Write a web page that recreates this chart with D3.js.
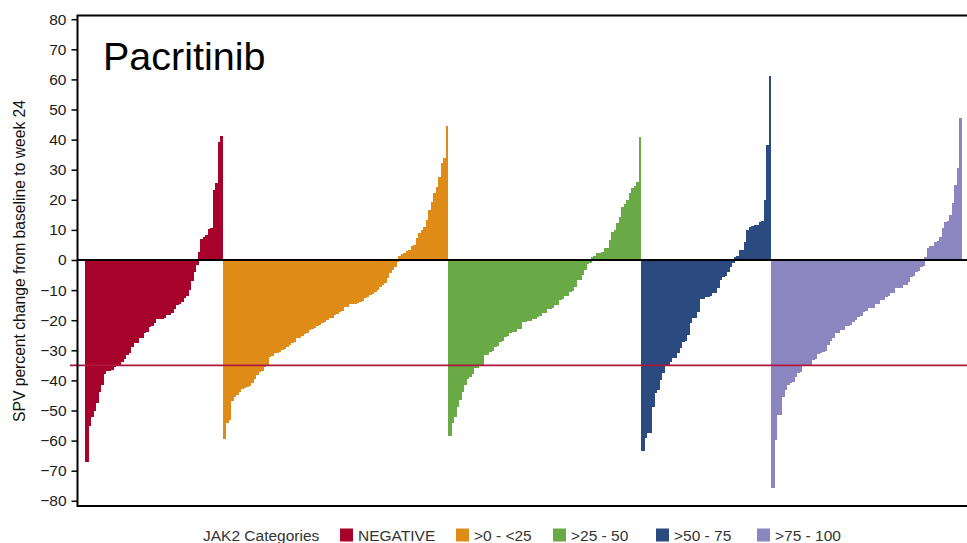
<!DOCTYPE html>
<html>
<head>
<meta charset="utf-8">
<script src="https://cdn.jsdelivr.net/npm/d3@7/dist/d3.min.js"></script>
<style>
  html, body { margin: 0; padding: 0; background: #fff; }
  svg { display: block; font-family: "Liberation Sans", Arial, Helvetica, sans-serif; }
</style>
</head>
<body>
<svg id="chart" width="967" height="543"></svg>
<script>
// JAK2 allele-burden categories and their colours
const categories = ["NEGATIVE", ">0 - <25", ">25 - 50", ">50 - 75", ">75 - 100"];
const categoryColors = ["#a6022b", "#df8b18", "#69a946", "#2b4a7f", "#8b86c0"];

// Per-patient SPV % change from baseline to week 24, sorted within each category
const negativeValues = [
  -67, -55, -52, -50, -47.5, -44, -41.5, -38, -37, -37, -36.5, -35.5, -35.3, -35,
  -33.8, -33, -31.6, -31, -28.8, -27.5, -27.5, -26, -26, -24.1, -24, -22.1, -22, -21,
  -19.6, -19.6, -19.5, -19.4, -18.3, -18.2, -17.5, -16.4, -15, -14.5, -13.8, -12.5, -12,
  -10, -7, -4, -1.5, 2.5, 7, 7.5, 8.3, 10.3, 10.5, 23.3, 25.5, 39.3, 41.2
];
const lowValues = [
  -59.6, -54.3, -53.2, -47, -45.4, -45, -43.7, -43, -42.6, -42.1, -42, -41, -39.6, -38.2,
  -37.1, -37, -35.4, -35, -32.1, -32, -31, -31, -30.5, -29.9, -29.5, -28.8, -28.3, -27.7,
  -27.2, -26, -25.8, -25.2, -24.6, -24.3, -23.3, -23, -22.7, -21.9, -21.5, -21, -20.5, -20,
  -19.4, -19.2, -18.3, -18, -17.2, -17, -15.7, -15.5, -14.6, -14.6, -14.5, -14.3, -13.8,
  -13.5, -12.7, -12.3, -11.6, -11.2, -10.5, -10, -8.9, -8.2, -7.7, -6.1, -4.4, -3.3, -2.2,
  -0.5, 1.4, 2, 2.2, 3, 3.3, 4.5, 5, 7.2, 8.9, 10, 11.1, 13.3, 16.6, 19.4, 22.2, 24.4,
  27.7, 32.1, 33.8, 44.5
];
const midLowValues = [
  -58.5, -54.3, -52, -48.7, -46.5, -43.7, -41.5, -39.6, -39, -37.9, -36, -36, -34.9, -34.9,
  -31.6, -31.4, -30.5, -30.3, -28.8, -28.5, -27.1, -27, -25.5, -25.3, -24.1, -24, -23.8,
  -23, -22.8, -20.5, -20.5, -20.3, -20.2, -19.6, -19.5, -18.8, -18.6, -17.7, -17.5, -16.4,
  -16.3, -16, -15, -14.8, -13.3, -13.1, -12, -11.8, -10.5, -10.3, -8.9, -6.6, -6.5, -5,
  -3.3, -1.3, -1.1, 1.1, 1.2, 2.2, 2.3, 2.5, 3.9, 4, 6.6, 9.4, 10, 12.2, 14.4, 17.7, 18.5,
  19.9, 22.2, 23.8, 24.5, 26, 40.8
];
const midHighValues = [
  -63.3, -59.3, -57.6, -57.6, -48.7, -44.3, -43.2, -39.9, -37.7, -35.2, -35, -33.8, -32.7,
  -32.5, -31, -29.3, -27.1, -27, -24.9, -21, -19.4, -19.2, -17.2, -13.1, -13, -12.2, -12.2,
  -12, -11.1, -11, -9.4, -6.6, -5.5, -5.3, -3.9, -2.2, -1.1, 1.1, 1.2, 3.3, 3.4, 6.1, 10,
  11.1, 11.2, 11.6, 11.7, 12.7, 12.8, 19.9, 38.2, 61.1
];
const highValues = [
  -75.9, -59.8, -51.5, -51.5, -45.4, -43.2, -41.5, -41, -40.4, -38.8, -37.4, -37.2, -35.2,
  -35.2, -35.1, -35, -33.2, -33, -31.2, -31, -30.5, -30.3, -28.2, -27, -26, -24.4, -24.2,
  -23.3, -23.1, -21.9, -21.8, -21.5, -20.5, -20, -18.8, -18.5, -17.2, -17, -16, -16, -15.8,
  -14.6, -14.5, -13.3, -13.2, -12.2, -12, -10.9, -10.8, -9.4, -9.3, -9.2, -8.3, -8.2, -7.2,
  -5.5, -5.4, -3.9, -3.8, -2.2, -2, 1.1, 3.9, 4.7, 4.8, 6.1, 6.2, 7.7, 10.5, 12.7, 12.8,
  15, 18.8, 24.9, 30.5, 47.1
];
const seriesValues = [negativeValues, lowValues, midLowValues, midHighValues, highValues];

// y-axis ticks and reference line
const yTicks = [80, 70, 60, 50, 40, 30, 20, 10, 0, -10, -20, -30, -40, -50, -60, -70, -80];
const thresholdValue = -35;

const titleText = "Pacritinib";
const yTitle = "SPV percent change from baseline to week 24";
const legendTitle = "JAK2 Categories";

// flatten into one bar list, keeping the category of each patient
const bars = [];
seriesValues.forEach((vals, ci) => {
  vals.forEach(v => bars.push({ cat: ci, value: v }));
});

const svg = d3.select("#chart");

const frame = { left: 77.5, top: 15.5, right: 967, bottom: 506 };

const x = d3.scaleBand()
  .domain(d3.range(bars.length))
  .range([85, 961.7])
  .paddingInner(0)
  .paddingOuter(0);

const y = d3.scaleLinear()
  .domain([-80, 80])
  .range([500.8, 19.2]);

// bars (slightly widened and crisp so neighbours merge into a solid fill)
svg.append("g")
  .attr("shape-rendering", "crispEdges")
  .selectAll("rect")
  .data(bars)
  .join("rect")
  .attr("x", (d, i) => x(i))
  .attr("width", (d, i) => (i < bars.length - 1 && bars[i + 1].cat === d.cat) ? x.bandwidth() + 1 : x.bandwidth())
  .attr("y", d => y(Math.max(0, d.value)))
  .attr("height", d => Math.abs(y(d.value) - y(0)))
  .attr("fill", d => categoryColors[d.cat]);

// -35% reference line
svg.append("line")
  .attr("x1", 70).attr("x2", frame.right)
  .attr("y1", y(thresholdValue)).attr("y2", y(thresholdValue))
  .attr("stroke", "#b0173c")
  .attr("stroke-width", 1.6);

// zero line
svg.append("line")
  .attr("x1", frame.left).attr("x2", frame.right)
  .attr("y1", y(0)).attr("y2", y(0))
  .attr("stroke", "#000")
  .attr("stroke-width", 2);

// frame: top, left and bottom edges
svg.append("path")
  .attr("d", `M${frame.right},${frame.top}H${frame.left}V${frame.bottom}H${frame.right}`)
  .attr("fill", "none")
  .attr("stroke", "#000")
  .attr("stroke-width", 2);

// y axis
const yAxis = svg.append("g")
  .attr("transform", `translate(${frame.left},0)`)
  .call(d3.axisLeft(y).tickValues(yTicks).tickSize(6).tickPadding(5).tickFormat(d3.format("d")));
yAxis.select(".domain").remove();
yAxis.selectAll(".tick line").attr("stroke", "#000").attr("stroke-width", 1.5);
yAxis.selectAll(".tick text")
  .attr("fill", "#1a1a1a")
  .style("font-size", "15.5px")
  .style("font-family", "'Liberation Sans', Arial, sans-serif");

// y axis title
svg.append("text")
  .attr("transform", `translate(25,${(100 + 422) / 2}) rotate(-90)`)
  .attr("text-anchor", "middle")
  .attr("textLength", 322)
  .attr("lengthAdjust", "spacingAndGlyphs")
  .attr("fill", "#111")
  .style("font-size", "16.5px")
  .text(yTitle);

// chart title
svg.append("text")
  .attr("x", 103)
  .attr("y", 70)
  .attr("fill", "#000")
  .style("font-size", "39.5px")
  .text(titleText);

// legend
const legend = svg.append("g").attr("transform", "translate(0,535)");
legend.append("text")
  .attr("x", 203).attr("y", 5.5)
  .attr("fill", "#333")
  .style("font-size", "15.5px")
  .text(legendTitle);

const legendX = [340, 456, 553, 656, 757];
categories.forEach((c, i) => {
  const g = legend.append("g").attr("transform", `translate(${legendX[i]},0)`);
  g.append("rect")
    .attr("x", 0).attr("y", -6.5)
    .attr("width", 13).attr("height", 13)
    .attr("fill", categoryColors[i]);
  g.append("text")
    .attr("x", 18).attr("y", 5.5)
    .attr("fill", "#333")
    .style("font-size", "15.5px")
    .text(c);
});
</script>
</body>
</html>
